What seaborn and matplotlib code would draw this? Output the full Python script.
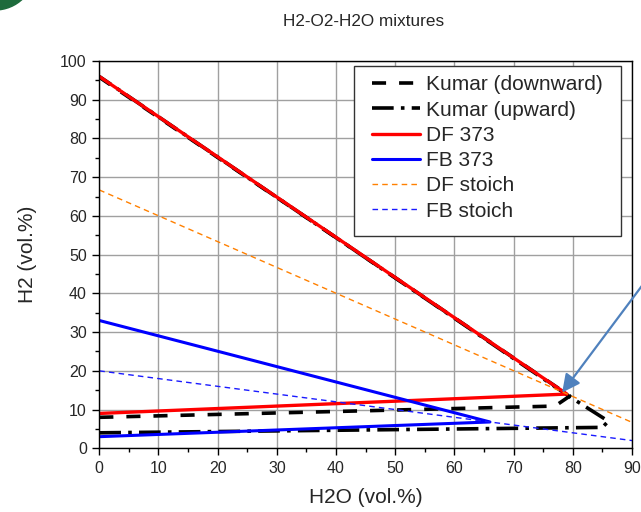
import matplotlib
matplotlib.use("Agg")
import matplotlib.pyplot as plt
from matplotlib.patches import Circle, Rectangle
from matplotlib.ticker import MultipleLocator
import seaborn as sns

# ---- data ----
kumar_down_x = [0, 77, 79.5, 0]
kumar_down_y = [8.0, 10.9, 13.5, 95.8]
kumar_up_x = [0, 85, 86, 79.5, 0]
kumar_up_y = [4.0, 5.4, 7.0, 13.3, 96.0]
df373_x = [0, 79, 0]
df373_y = [96.0, 14.0, 9.0]
fb373_x = [0, 66, 0]
fb373_y = [33.0, 6.8, 3.0]
df_stoich_x = [0, 90]
df_stoich_y = [66.7, 6.7]
fb_stoich_x = [0, 90]
fb_stoich_y = [20.0, 2.0]

labels = ["Kumar (downward)", "Kumar (upward)", "DF 373", "FB 373",
          "DF stoich", "FB stoich"]
x_ticks = [0, 10, 20, 30, 40, 50, 60, 70, 80, 90]
y_ticks = [0, 10, 20, 30, 40, 50, 60, 70, 80, 90, 100]

sns.set_theme(style="white")
plt.rcParams["font.family"] = ["Liberation Sans", "DejaVu Sans"]

W, H = 641, 512
AX_L, AX_B, AX_W, AX_H = 99.3, 448.3, 532.7, 387.3  # pixels (bottom from top)
fig = plt.figure(figsize=(W / 100, H / 100), dpi=100)
ax = fig.add_axes([AX_L / W, (H - AX_B) / H, AX_W / W, AX_H / H])


def ax_xy(px, py):
    """pixel (from top-left) -> axes fraction"""
    return (px - AX_L) / AX_W, (AX_B - py) / AX_H


series = [
    (kumar_down_x, kumar_down_y, labels[0], dict(color="black", lw=2.6, linestyle=(0, (3.9, 3.6)))),
    (kumar_up_x, kumar_up_y, labels[1], dict(color="black", lw=2.6, linestyle=(0, (6, 2, 1, 2)))),
    (df373_x, df373_y, labels[2], dict(color="#ff0000", lw=2.4, linestyle="-")),
    (fb373_x, fb373_y, labels[3], dict(color="#0000ff", lw=2.2, linestyle="-")),
    (df_stoich_x, df_stoich_y, labels[4], dict(color="#ff8000", lw=1.0, linestyle=(0, (4, 3)))),
    (fb_stoich_x, fb_stoich_y, labels[5], dict(color="#1a1aff", lw=1.0, linestyle=(0, (4, 3)))),
]
for xs, ys, lab, kw in series:
    sns.lineplot(x=xs, y=ys, sort=False, estimator=None, ax=ax, label=lab, **kw)

ax.set_xlim(0, 90)
ax.set_ylim(0, 100)
ax.set_xticks(x_ticks)
ax.set_yticks(y_ticks)
ax.xaxis.set_minor_locator(MultipleLocator(5))
ax.yaxis.set_minor_locator(MultipleLocator(5))
ax.grid(True, which="major", color="#a0a0a0", lw=1.0)
ax.set_axisbelow(True)
for s in ax.spines.values():
    s.set_visible(True)
    s.set_color("black")
    s.set_linewidth(1.0)
ax.tick_params(which="major", direction="out", length=5, width=1, color="black",
               labelsize=11.5, pad=4, bottom=True, left=True)
ax.tick_params(which="minor", direction="out", length=3, width=1, color="black",
               bottom=True, left=True)

ax.set_xlabel("H2O (vol.%)", fontsize=15, labelpad=9)
ax.set_ylabel("H2 (vol.%)", fontsize=15, labelpad=17)
fig.text(364 / W, 1 - 22 / H, "H2-O2-H2O mixtures", fontsize=12.3,
         ha="center", va="center")

# legend: custom frame rectangle + frameless legend content
x0, y1 = ax_xy(354, 66)
x1, y0 = ax_xy(621, 236)
ax.add_patch(Rectangle((x0, y0), x1 - x0, y1 - y0, transform=ax.transAxes,
                       facecolor="white", edgecolor="#333333", lw=1.0,
                       zorder=4.5, clip_on=False))
fs = 15
bp = 0.45
lx, ly = ax_xy(372 - bp * fs * 100 / 72, 66)
leg = ax.legend(loc="upper left", bbox_to_anchor=(lx, ly), borderaxespad=0,
                fontsize=fs, handlelength=2.3, handletextpad=0.3,
                labelspacing=0.3, borderpad=bp, frameon=False)
leg.set_zorder(5)

# arrow pointing at the tip of the flammability curve
ax.annotate("", xy=(78.2, 14.4), xycoords="data",
            xytext=(650, H - 275), textcoords="figure pixels",
            arrowprops=dict(arrowstyle="-|>,head_length=0.9,head_width=0.45",
                            color="#4f81bd", lw=1.6, shrinkA=0, shrinkB=0),
            annotation_clip=False)

# partial logo at the top-left corner
fig.add_artist(Circle((-5, H + 30), 40, transform=None, color="#1d6b3c", zorder=0))

fig.savefig("out.png", dpi=100)
